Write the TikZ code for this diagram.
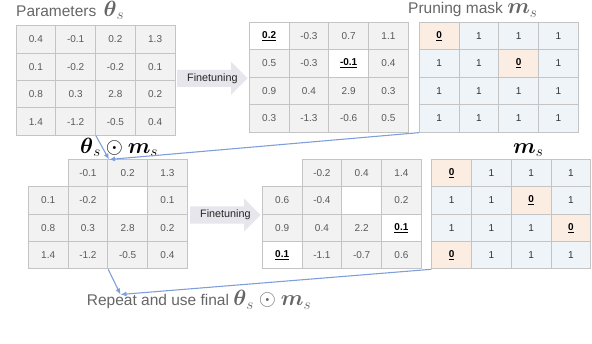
\RequirePackage{fix-cm}
\documentclass[tikz,border=0pt]{standalone}
\usepackage{amsmath,amssymb}
\usepackage{fontspec}
\setmainfont{Liberation Sans}
\usepackage{xcolor}
\usepackage{tikz}
\usetikzlibrary{arrows.meta,positioning,shapes.arrows,calc}

\definecolor{cellgray}{HTML}{F2F2F2}
\definecolor{cellline}{HTML}{C4C4C4}
\definecolor{numgray}{HTML}{595959}
\definecolor{maskblue}{HTML}{EEF4F8}
\definecolor{maskzero}{HTML}{FCEDE3}
\definecolor{arrowgray}{HTML}{E6E6EC}
\definecolor{linkblue}{HTML}{7F9FDB}
\definecolor{labelgray}{HTML}{666666}

\begin{document}
\begin{tikzpicture}[x=1pt, y=-1pt,
  cell/.style={rectangle, draw=cellline, line width=0.8pt, fill=cellgray, minimum width=39.75pt, minimum height=27.4pt, inner sep=0pt, text=numgray, font=\fontsize{10}{12}\selectfont},
  keep/.style={cell, fill=white, text=black, font=\fontsize{10}{12}\selectfont\bfseries},
  gap/.style={cell, draw=none, fill=none},
  pruned/.style={cell, fill=white},
  one/.style={cell, fill=maskblue, text=black!80},
  zero/.style={cell, fill=maskzero, text=black, font=\fontsize{10}{12}\selectfont\bfseries},
  finetune/.style={single arrow, draw=none, fill=arrowgray, minimum width=33.3pt, minimum height=70.5pt, single arrow head extend=5pt, inner sep=0pt, font=\fontsize{10.8}{12}\selectfont, text=black!85},
  caption/.style={anchor=base west, inner sep=0pt, text=labelgray, font=\fontsize{15.5}{18}\selectfont},
  big/.style={font=\fontsize{22}{24}\selectfont},
  link/.style={draw=linkblue, line width=1.1pt, -{Latex[length=6pt,width=5pt]}}]

  \useasboundingbox (0,0) rectangle (592,344);

  % Top row: parameters, finetuned parameters, pruning mask
  \foreach \vals [count=\r] in {{cell/0.4,cell/-0.1,cell/0.2,cell/1.3},{cell/0.1,cell/-0.2,cell/-0.2,cell/0.1},{cell/0.8,cell/0.3,cell/2.8,cell/0.2},{cell/1.4,cell/-1.2,cell/-0.5,cell/0.4}}
    \foreach \s/\v [count=\c] in \vals
      \node [\s] (a-\r-\c) at ({16+(\c-0.5)*39.75},{25.7+(\r-0.5)*27.4}) {\v};

  \foreach \vals [count=\r] in {{keep/\underline{0.2},cell/-0.3,cell/0.7,cell/1.1},{cell/0.5,cell/-0.3,keep/\underline{-0.1},cell/0.4},{cell/0.9,cell/0.4,cell/2.9,cell/0.3},{cell/0.3,cell/-1.3,cell/-0.6,cell/0.5}}
    \foreach \s/\v [count=\c] in \vals
      \node [\s] (b-\r-\c) at ({249.3+(\c-0.5)*39.75},{22.3+(\r-0.5)*27.5}) {\v};

  \foreach \vals [count=\r] in {{zero/\underline{0},one/1,one/1,one/1},{one/1,one/1,zero/\underline{0},one/1},{one/1,one/1,one/1,one/1},{one/1,one/1,one/1,one/1}}
    \foreach \s/\v [count=\c] in \vals
      \node [\s] (m1-\r-\c) at ({419.3+(\c-0.5)*39.75},{22.3+(\r-0.5)*27.5}) {\v};

  % Bottom row: masked parameters, finetuned again, new mask
  \foreach \vals [count=\r] in {{gap/{},cell/-0.1,cell/0.2,cell/1.3},{cell/0.1,cell/-0.2,pruned/{},cell/0.1},{cell/0.8,cell/0.3,cell/2.8,cell/0.2},{cell/1.4,cell/-1.2,cell/-0.5,cell/0.4}}
    \foreach \s/\v [count=\c] in \vals
      \node [\s] (c-\r-\c) at ({28.3+(\c-0.5)*39.75},{159.3+(\r-0.5)*27.4}) {\v};

  \foreach \vals [count=\r] in {{gap/{},cell/-0.2,cell/0.4,cell/1.4},{cell/0.6,cell/-0.4,pruned/{},cell/0.2},{cell/0.9,cell/0.4,cell/2.2,keep/\underline{0.1}},{keep/\underline{0.1},cell/-1.1,cell/-0.7,cell/0.6}}
    \foreach \s/\v [count=\c] in \vals
      \node [\s] (d-\r-\c) at ({262.3+(\c-0.5)*39.75},{159.3+(\r-0.5)*27.4}) {\v};

  \foreach \vals [count=\r] in {{zero/\underline{0},one/1,one/1,one/1},{one/1,one/1,zero/\underline{0},one/1},{one/1,one/1,one/1,zero/\underline{0}},{zero/\underline{0},one/1,one/1,one/1}}
    \foreach \s/\v [count=\c] in \vals
      \node [\s] (m2-\r-\c) at ({431.7+(\c-0.5)*39.75},{159.3+(\r-0.5)*27.4}) {\v};

  % Finetuning steps
  \node [finetune, anchor=tail] (ft1) at (177,78.3) {\makebox[51pt][l]{\hspace*{4.5pt}Finetuning}};
  \node [finetune, anchor=tail] (ft2) at (190,215) {\makebox[51pt][l]{\hspace*{4.5pt}Finetuning}};

  % Captions
  \node [caption] (params) at (16,16.7) {Parameters\hspace{3pt} {\fontsize{22}{24}\selectfont$\boldsymbol{\theta}_s$}};
  \node [caption] (masklabel) at (408,14) {Pruning mask {\fontsize{22}{24}\selectfont$\boldsymbol{m}_s$}};
  \node [caption, big, text=black] (masked) at (80,153.5) {$\boldsymbol{\theta}_s \odot \boldsymbol{m}_s$};
  \node [caption, big, text=black] (newmask) at (513,153.3) {$\boldsymbol{m}_s$};
  \node [caption] (repeat) at (86.7,306) {Repeat and use final {\fontsize{22}{24}\selectfont$\boldsymbol{\theta}_s \odot \boldsymbol{m}_s$}};

  % Connectors
  \coordinate (join1) at (109,159.5);
  \coordinate (join2) at (120.5,294.5);
  \path [link] (a-4-2.south east) -- (join1);
  \path [link] (m1-4-1.south west) -- (join1);
  \path [link] (c-4-2.south east) -- (join2);
  \path [link] (m2-4-1.south west) -- (join2);
\end{tikzpicture}
\end{document}
